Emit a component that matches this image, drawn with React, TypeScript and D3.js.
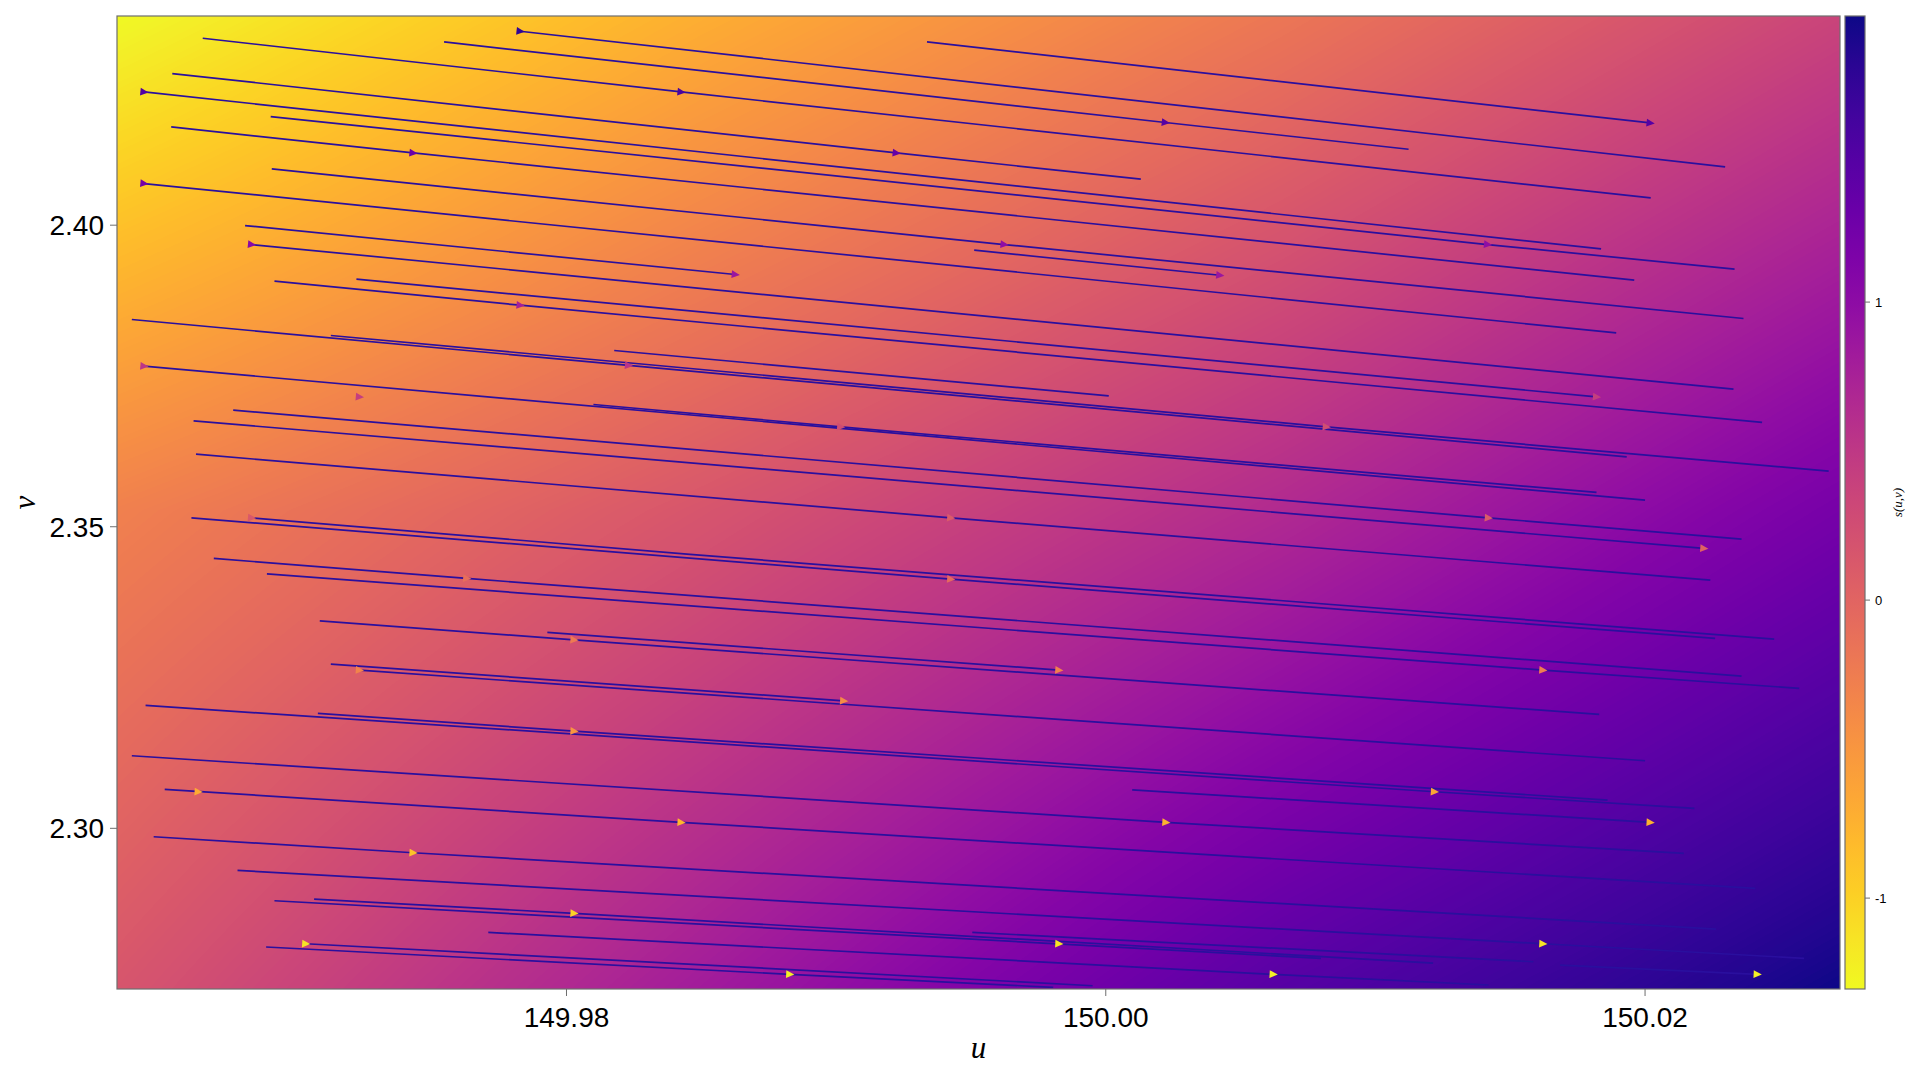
import React, { useMemo } from "react";
import * as d3 from "d3";

// ---------- axes / scales data ----------
const uDomain: [number, number] = [149.96333, 150.02723];
const vDomain: [number, number] = [2.27336, 2.43468];
const uTicks = [149.98, 150.0, 150.02];
const vTicks = [2.3, 2.35, 2.4];
const sExtent: [number, number] = [-1.305, 1.96];
const sTicks = [-1, 0, 1];

// ---------- background field s(u,v), read at grid nodes ----------
const fieldU = [149.96333, 149.98495, 150.00646, 150.02723];
const fieldV = [2.43468, 2.35275, 2.27336];
const fieldS = [
  [-1.305, -0.717, -0.195, 0.36],
  [-0.293, 0.164, 0.654, 1.209],
  [0.164, 0.817, 1.47, 1.96],
];

// ---------- streamlines (u, v) ----------
const streamlines: [number, number][][] = [
  [[149.97828, 2.43215], [150.02297, 2.40966]],
  [[149.97546, 2.43038], [150.00221, 2.41702], [150.01123, 2.41259]],
  [[149.99337, 2.43038], [150.02019, 2.41695]],
  [[149.96651, 2.43099], [149.98425, 2.42209], [150.02021, 2.40452]],
  [[149.96538, 2.42514], [149.99223, 2.41198], [150.0013, 2.40762]],
  [[149.96433, 2.42209], [150.01837, 2.39606]],
  [[149.96903, 2.41801], [150.01416, 2.39679], [150.02332, 2.3927]],
  [[149.96534, 2.41629], [149.97431, 2.41198], [150.0196, 2.39088]],
  [[149.96907, 2.40932], [149.99623, 2.39679], [150.02365, 2.38453]],
  [[149.99512, 2.39585], [150.00423, 2.3917]],
  [[149.96433, 2.4069], [150.01893, 2.38214]],
  [[149.96808, 2.39994], [149.98626, 2.39182]],
  [[149.96832, 2.39679], [150.02328, 2.37281]],
  [[149.96917, 2.39071], [149.97828, 2.38673], [150.02434, 2.36729]],
  [[149.97221, 2.39104], [150.0182, 2.37153]],
  [[149.96388, 2.38436], [149.9823, 2.37674], [150.01932, 2.36159]],
  [[149.97126, 2.38171], [150.00818, 2.36656], [150.02681, 2.35922]],
  [[149.98177, 2.37922], [150.00011, 2.3717]],
  [[149.96433, 2.37662], [150.02, 2.35441]],
  [[149.981, 2.37027], [149.99017, 2.36656]],
  [[149.99017, 2.36656], [150.0182, 2.35569]],
  [[149.96764, 2.36933], [150.01419, 2.35148], [150.02358, 2.34794]],
  [[149.96617, 2.36755], [150.02218, 2.3464]],
  [[149.96626, 2.36203], [149.99425, 2.35148], [150.02242, 2.34115]],
  [[149.96609, 2.35148], [149.99425, 2.34131], [150.0226, 2.33149]],
  [[149.96832, 2.35148], [149.98458, 2.34541], [150.02479, 2.33137]],
  [[149.96692, 2.34475], [149.9763, 2.34143], [150.02358, 2.32524]],
  [[149.96889, 2.34219], [150.01621, 2.32623], [150.02572, 2.3232]],
  [[149.97085, 2.3344], [149.98028, 2.33125], [150.0183, 2.31889]],
  [[149.97929, 2.33248], [149.99826, 2.32623]],
  [[149.97126, 2.32723], [149.99028, 2.32114]],
  [[149.97232, 2.32623], [150.02, 2.3112]],
  [[149.96439, 2.32038], [150.01219, 2.30606], [150.02183, 2.30331]],
  [[149.97078, 2.31905], [149.98028, 2.31612], [150.01861, 2.30468]],
  [[149.96388, 2.31203], [150.00223, 2.30099], [150.02144, 2.29585]],
  [[150.00098, 2.30639], [150.02019, 2.30099]],
  [[149.9651, 2.30646], [149.98425, 2.30099], [150.02409, 2.29005]],
  [[149.96469, 2.2986], [149.97431, 2.29595], [150.02263, 2.2833]],
  [[149.9678, 2.29303], [150.01621, 2.28086], [150.0259, 2.27844]],
  [[149.97064, 2.28827], [149.98028, 2.2859], [150.01214, 2.27766]],
  [[149.96917, 2.28799], [150.00798, 2.27844]],
  [[149.99505, 2.28275], [150.01586, 2.27788]],
  [[149.9771, 2.28275], [150.00621, 2.27579], [150.01419, 2.27402]],
  [[150.01685, 2.27733], [150.02416, 2.27579]],
  [[149.97033, 2.28086], [149.99951, 2.2739]],
  [[149.96886, 2.28032], [149.98828, 2.27579], [149.99805, 2.27364]],
];

// ---------- arrow heads (seed points) ----------
const arrowU = [
  149.97828, 150.00221, 150.02019, 149.98425, 149.99223, 149.96433, 150.01416, 149.97431,
  149.99623, 150.00423, 149.96433, 149.98626, 149.96832, 149.97828, 150.0182, 149.9823,
  150.00818, 149.96433, 149.97232, 149.99017, 150.01419, 150.02218, 149.99425, 149.96832,
  149.99425, 149.9763, 150.01621, 149.98028, 149.99826, 149.99028, 149.97232, 149.98028,
  150.01219, 150.00223, 150.02019, 149.96634, 149.98425, 149.97431, 150.01621, 149.98028,
  149.99826, 150.00621, 150.02416, 149.97033, 149.98828,
];
const arrowV = [
  2.43215, 2.41702, 2.41695, 2.42209, 2.41198, 2.42209, 2.39679, 2.41198,
  2.39679, 2.3917, 2.4069, 2.39182, 2.39679, 2.38673, 2.37153, 2.37674,
  2.36656, 2.37662, 2.37153, 2.36656, 2.35148, 2.3464, 2.35148, 2.35148,
  2.34131, 2.34143, 2.32623, 2.33125, 2.32623, 2.32114, 2.32623, 2.31612,
  2.30606, 2.30099, 2.30099, 2.30606, 2.30099, 2.29595, 2.28086, 2.2859,
  2.28086, 2.27579, 2.27579, 2.28086, 2.27579,
];
const arrowMag = [
  0.06, 0.15, 0.15, 0.12, 0.19, 0.14, 0.3, 0.2,
  0.3, 0.33, 0.23, 0.33, 0.28, 0.36, 0.47, 0.43,
  0.52, 0.44, 0.47, 0.52, 0.57, 0.59, 0.57, 0.56,
  0.62, 0.63, 0.68, 0.67, 0.69, 0.72, 0.7, 0.75,
  0.8, 0.83, 0.83, 0.81, 0.84, 0.87, 0.95, 0.91,
  0.95, 0.98, 0.98, 0.95, 0.98,
];

const PLOT = { x0: 117, x1: 1840, y0: 16, y1: 989 };
const CBAR = { x0: 1845, x1: 1865 };
const FRAME = "#6e6e6e";

function clamp01(t: number) {
  return t < 0 ? 0 : t > 1 ? 1 : t;
}

function sampleField(u: number, v: number) {
  let i = 0;
  while (i < fieldU.length - 2 && u > fieldU[i + 1]) i++;
  let j = 0;
  while (j < fieldV.length - 2 && v < fieldV[j + 1]) j++;
  const tu = clamp01((u - fieldU[i]) / (fieldU[i + 1] - fieldU[i]));
  const tv = clamp01((v - fieldV[j]) / (fieldV[j + 1] - fieldV[j]));
  const a = fieldS[j][i], b = fieldS[j][i + 1], c = fieldS[j + 1][i], d = fieldS[j + 1][i + 1];
  return (a * (1 - tu) + b * tu) * (1 - tv) + (c * (1 - tu) + d * tu) * tv;
}

export default function App() {
  const x = d3.scaleLinear().domain(uDomain).range([PLOT.x0, PLOT.x1]);
  const y = d3.scaleLinear().domain(vDomain).range([PLOT.y1, PLOT.y0]);
  const sColor = d3.scaleSequential(d3.interpolatePlasma).domain([sExtent[1], sExtent[0]]);
  const arrowColor = d3.scaleSequential(d3.interpolatePlasma).domain([0, 1]);
  const cbY = d3.scaleLinear().domain(sExtent).range([PLOT.y1, PLOT.y0]);

  const heatHref = useMemo(() => {
    const w = Math.round(PLOT.x1 - PLOT.x0);
    const h = Math.round(PLOT.y1 - PLOT.y0);
    const canvas = document.createElement("canvas");
    canvas.width = w;
    canvas.height = h;
    const ctx = canvas.getContext("2d");
    if (!ctx) return "";
    const img = ctx.createImageData(w, h);
    const N = 512;
    const lut = d3.range(N).map((k) =>
      d3.rgb(sColor(sExtent[0] + (k / (N - 1)) * (sExtent[1] - sExtent[0])))
    );
    const us = d3.range(w).map((px) => x.invert(PLOT.x0 + px + 0.5));
    for (let py = 0; py < h; py++) {
      const v = y.invert(PLOT.y0 + py + 0.5);
      for (let px = 0; px < w; px++) {
        const s = sampleField(us[px], v);
        const k = Math.round(clamp01((s - sExtent[0]) / (sExtent[1] - sExtent[0])) * (N - 1));
        const c = lut[k];
        const o = (py * w + px) * 4;
        img.data[o] = c.r;
        img.data[o + 1] = c.g;
        img.data[o + 2] = c.b;
        img.data[o + 3] = 255;
      }
    }
    ctx.putImageData(img, 0, 0);
    return canvas.toDataURL();
  }, []);

  const line = d3
    .line<[number, number]>()
    .x((d) => x(d[0]))
    .y((d) => y(d[1]));

  const arrowAngle = (px: number, py: number) => {
    let best = Infinity;
    let ang = 0;
    for (const sl of streamlines) {
      for (let k = 0; k < sl.length - 1; k++) {
        const ax = x(sl[k][0]), ay = y(sl[k][1]);
        const bx = x(sl[k + 1][0]), by = y(sl[k + 1][1]);
        const dx = bx - ax, dy = by - ay;
        const t = clamp01(((px - ax) * dx + (py - ay) * dy) / (dx * dx + dy * dy));
        const qx = ax + t * dx - px, qy = ay + t * dy - py;
        const dist = qx * qx + qy * qy;
        if (dist < best) {
          best = dist;
          ang = (Math.atan2(dy, dx) * 180) / Math.PI;
        }
      }
    }
    return ang;
  };

  const gradStops = d3.range(0, 21).map((i) => ({
    off: i / 20,
    col: sColor(sExtent[0] + (i / 20) * (sExtent[1] - sExtent[0])),
  }));

  const fontSans = "'Liberation Sans', Arial, Helvetica, sans-serif";
  const fontMath = "'Liberation Serif', 'DejaVu Serif', serif";

  return (
    <svg
      width={1920}
      height={1080}
      style={{ position: "absolute", left: 0, top: 0, background: "#ffffff" }}
    >
      <defs>
        <clipPath id="plotClip">
          <rect x={PLOT.x0} y={PLOT.y0} width={PLOT.x1 - PLOT.x0} height={PLOT.y1 - PLOT.y0} />
        </clipPath>
        <linearGradient id="cbGrad" x1="0" y1="1" x2="0" y2="0">
          {gradStops.map((g, i) => (
            <stop key={i} offset={g.off} stopColor={g.col} />
          ))}
        </linearGradient>
      </defs>

      {/* heatmap */}
      <image
        href={heatHref}
        x={PLOT.x0}
        y={PLOT.y0}
        width={PLOT.x1 - PLOT.x0}
        height={PLOT.y1 - PLOT.y0}
        preserveAspectRatio="none"
      />

      {/* streamlines */}
      <g clipPath="url(#plotClip)">
        {streamlines.map((sl, i) => (
          <path
            key={i}
            d={line(sl) || ""}
            fill="none"
            stroke="#2a0f9e"
            strokeWidth={1.7}
            strokeLinecap="butt"
          />
        ))}
        {arrowU.map((u, i) => {
          const px = x(u);
          const py = y(arrowV[i]);
          const a = arrowAngle(px, py);
          return (
            <path
              key={i}
              d="M4.6,0 L-3.6,-3.9 L-3.6,3.9 Z"
              transform={`translate(${px},${py}) rotate(${a})`}
              fill={arrowColor(arrowMag[i])}
            />
          );
        })}
      </g>

      {/* frame */}
      <rect
        x={PLOT.x0}
        y={PLOT.y0}
        width={PLOT.x1 - PLOT.x0}
        height={PLOT.y1 - PLOT.y0}
        fill="none"
        stroke={FRAME}
        strokeWidth={1.2}
      />

      {/* x axis ticks */}
      {uTicks.map((t) => (
        <g key={t}>
          <line x1={x(t)} x2={x(t)} y1={PLOT.y1} y2={PLOT.y1 + 7} stroke={FRAME} strokeWidth={1} />
          <text
            x={x(t)}
            y={1027}
            textAnchor="middle"
            fontFamily={fontSans}
            fontSize={28}
            fill="#000"
          >
            {d3.format(".2f")(t)}
          </text>
        </g>
      ))}

      {/* y axis ticks */}
      {vTicks.map((t) => (
        <g key={t}>
          <line x1={PLOT.x0 - 7} x2={PLOT.x0} y1={y(t)} y2={y(t)} stroke={FRAME} strokeWidth={1} />
          <text
            x={104}
            y={y(t) + 10}
            textAnchor="end"
            fontFamily={fontSans}
            fontSize={28}
            fill="#000"
          >
            {d3.format(".2f")(t)}
          </text>
        </g>
      ))}

      {/* axis labels */}
      <text
        x={(PLOT.x0 + PLOT.x1) / 2}
        y={1058}
        textAnchor="middle"
        fontFamily={fontMath}
        fontStyle="italic"
        fontSize={31}
        fill="#000"
      >
        u
      </text>
      <text
        transform={`translate(35, ${(PLOT.y0 + PLOT.y1) / 2}) rotate(-90)`}
        textAnchor="middle"
        fontFamily={fontMath}
        fontStyle="italic"
        fontSize={31}
        fill="#000"
      >
        v
      </text>

      {/* colorbar */}
      <rect
        x={CBAR.x0}
        y={PLOT.y0}
        width={CBAR.x1 - CBAR.x0}
        height={PLOT.y1 - PLOT.y0}
        fill="url(#cbGrad)"
        stroke={FRAME}
        strokeWidth={1.2}
      />
      {sTicks.map((t) => (
        <g key={t}>
          <line x1={CBAR.x1} x2={CBAR.x1 + 5} y1={cbY(t)} y2={cbY(t)} stroke={FRAME} strokeWidth={1} />
          <text
            x={CBAR.x1 + 10}
            y={cbY(t) + 4.6}
            fontFamily={fontSans}
            fontSize={13}
            fill="#000"
          >
            {String(t)}
          </text>
        </g>
      ))}
      <text
        transform={`translate(1902, ${(PLOT.y0 + PLOT.y1) / 2}) rotate(-90)`}
        textAnchor="middle"
        fontFamily={fontMath}
        fontStyle="italic"
        fontSize={13}
        fill="#000"
      >
        s(u,v)
      </text>
    </svg>
  );
}
